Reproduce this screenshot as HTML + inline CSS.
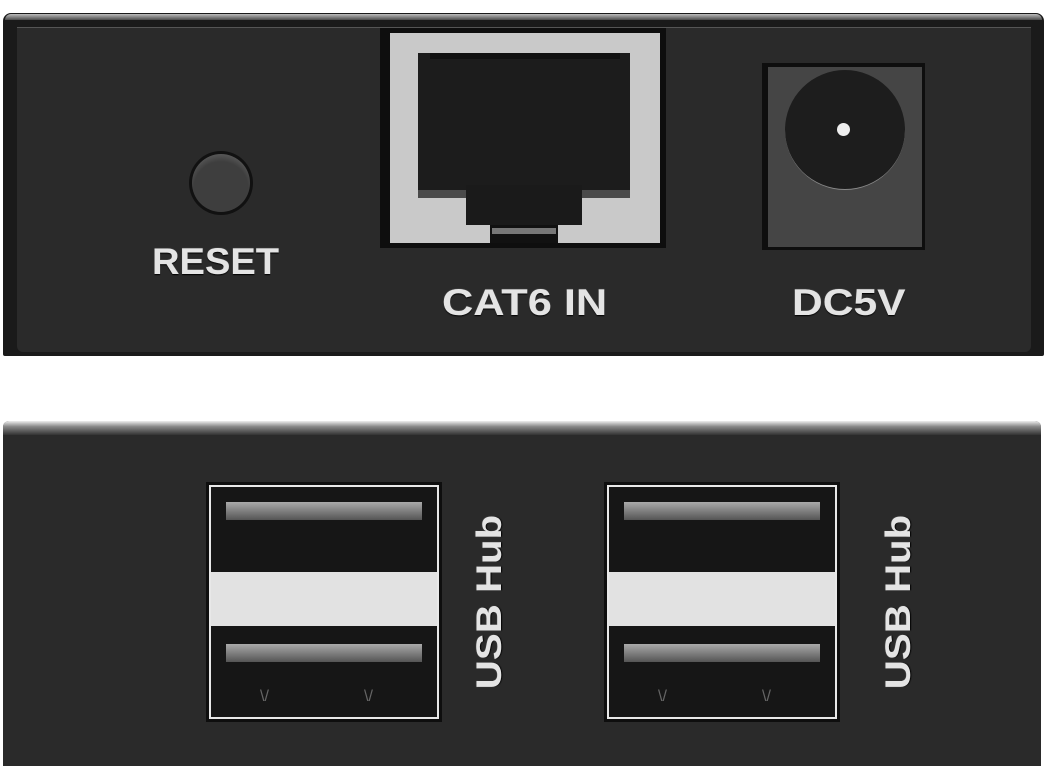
<!DOCTYPE html>
<html><head><meta charset="utf-8"><style>
*{margin:0;padding:0;box-sizing:border-box}
body{width:1048px;height:768px;background:#fff;position:relative;overflow:hidden;font-family:"Liberation Sans",sans-serif}
.a{position:absolute}
.lbl{position:absolute;color:#e4e4e4;font-weight:bold;white-space:nowrap;text-shadow:0 1px 1px #000,0 0 1px #888}
</style></head><body>
<!-- top device -->
<div class="a" style="left:3px;top:13px;width:1041px;height:343px;background:#1a1a1a;border-radius:8px 8px 2px 2px"></div>
<div class="a" style="left:5px;top:14px;width:1037px;height:6px;background:linear-gradient(#bdbdbd,#4a4a4a);border-radius:8px 8px 0 0"></div>
<div class="a" style="left:17px;top:27px;width:1014px;height:325px;background:#2a2a2a;border-top:1px solid #555;border-radius:0 0 6px 6px"></div>
<!-- reset -->
<div class="a" style="left:189px;top:151px;width:64px;height:64px;border-radius:50%;background:#111;"></div>
<div class="a" style="left:192px;top:154px;width:58px;height:58px;border-radius:50%;background:radial-gradient(circle at 50% 60%,#3e3e3e 60%,#6a6a6a 90%,#222)"></div>
<div class="lbl" style="left:152px;top:241px;font-size:37px;transform-origin:0 0;transform:scaleX(1.03)">RESET</div>
<!-- rj45 -->
<div class="a" style="left:380px;top:28px;width:286px;height:220px;background:#0e0e0e"></div>
<div class="a" style="left:390px;top:33px;width:270px;height:210px;background:#c9c9c9"></div>
<div class="a" style="left:418px;top:53px;width:212px;height:140px;background:#1c1c1c"></div>
<div class="a" style="left:418px;top:190px;width:50px;height:8px;background:#4a4a4a"></div>
<div class="a" style="left:580px;top:190px;width:50px;height:8px;background:#4a4a4a"></div>
<div class="a" style="left:466px;top:185px;width:116px;height:40px;background:#1a1a1a"></div>
<div class="a" style="left:490px;top:225px;width:68px;height:18px;background:#111"></div>
<div class="a" style="left:492px;top:228px;width:64px;height:6px;background:#777"></div>
<div class="a" style="left:430px;top:53px;width:190px;height:6px;background:#111"></div>
<div class="lbl" style="left:442px;top:282px;font-size:37px;transform-origin:0 0;transform:scaleX(1.17)">CAT6 IN</div>
<!-- dc -->
<div class="a" style="left:762px;top:63px;width:163px;height:187px;background:#0e0e0e"></div>
<div class="a" style="left:768px;top:67px;width:154px;height:180px;background:#454545"></div>
<div class="a" style="left:785px;top:70px;width:120px;height:120px;border-radius:50%;background:#1d1d1d;border-bottom:1px solid #888"></div>
<div class="a" style="left:837px;top:123px;width:13px;height:13px;border-radius:50%;background:#eee"></div>
<div class="lbl" style="left:792px;top:282px;font-size:37px;transform-origin:0 0;transform:scaleX(1.15)">DC5V</div>
<!-- bottom device -->
<div class="a" style="left:3px;top:421px;width:1038px;height:345px;background:#2a2a2a;border-radius:6px 6px 0 0"></div>
<div class="a" style="left:3px;top:421px;width:1038px;height:14px;background:linear-gradient(#eee,#888 40%,#333);border-radius:6px 6px 0 0"></div>
<!-- usb left -->
<div class="a" style="left:206px;top:482px;width:236px;height:240px;background:#0e0e0e"></div>
<div class="a" style="left:209px;top:485px;width:230px;height:234px;border:2px solid #e8e8e8;background:#161616"></div>
<div class="a" style="left:211px;top:572px;width:226px;height:54px;background:#e2e2e2"></div>
<div class="a" style="left:226px;top:502px;width:196px;height:18px;background:linear-gradient(#aaa,#555)"></div>
<div class="a" style="left:226px;top:644px;width:196px;height:18px;background:linear-gradient(#aaa,#555)"></div>
<div class="a" style="left:260px;top:688px;color:#666;font-size:16px">\/</div>
<div class="a" style="left:364px;top:688px;color:#666;font-size:16px">\/</div>
<div class="lbl" style="left:490px;top:602px;font-size:35px;transform:translate(-50%,-50%) rotate(-90deg) scaleX(1.15)">USB Hub</div>
<!-- usb right -->
<div class="a" style="left:604px;top:482px;width:236px;height:240px;background:#0e0e0e"></div>
<div class="a" style="left:607px;top:485px;width:230px;height:234px;border:2px solid #e8e8e8;background:#161616"></div>
<div class="a" style="left:609px;top:572px;width:226px;height:54px;background:#e2e2e2"></div>
<div class="a" style="left:624px;top:502px;width:196px;height:18px;background:linear-gradient(#aaa,#555)"></div>
<div class="a" style="left:624px;top:644px;width:196px;height:18px;background:linear-gradient(#aaa,#555)"></div>
<div class="a" style="left:658px;top:688px;color:#666;font-size:16px">\/</div>
<div class="a" style="left:762px;top:688px;color:#666;font-size:16px">\/</div>
<div class="lbl" style="left:899px;top:602px;font-size:35px;transform:translate(-50%,-50%) rotate(-90deg) scaleX(1.15)">USB Hub</div>
</body></html>
